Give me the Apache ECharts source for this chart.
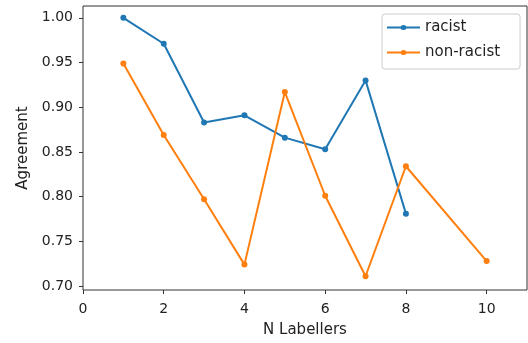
<!DOCTYPE html>
<html>
<head>
<meta charset="utf-8">
<script src="https://cdn.jsdelivr.net/npm/echarts@6/dist/echarts.min.js"></script>
<style>
html,body{margin:0;padding:0;background:#fff;}
#chart{width:528px;height:343px;}
</style>
</head>
<body>
<div id="chart"></div>
<script>
const racistX = [1, 2, 3, 4, 5, 6, 7, 8];
const racistY = [1.000, 0.971, 0.883, 0.891, 0.866, 0.853, 0.930, 0.781];
const nonRacistX = [1, 2, 3, 4, 5, 6, 7, 8, 10];
const nonRacistY = [0.949, 0.869, 0.797, 0.724, 0.917, 0.801, 0.711, 0.834, 0.728];
const xTicks = [0, 2, 4, 6, 8, 10];
const yTicks = [0.70, 0.75, 0.80, 0.85, 0.90, 0.95, 1.00];

const FONT = 'DejaVu Sans';
const ICON = 'path://M0,1.6L33,1.6L33,3.4L0,3.4Z M13.5,2.5A3,2.5,0,1,1,19.5,2.5A3,2.5,0,1,1,13.5,2.5Z';
const chart = echarts.init(document.getElementById('chart'), null, {renderer: 'canvas'});
chart.setOption({
  animation: false,
  backgroundColor: '#fff',
  textStyle: {fontFamily: FONT},
  grid: {left: 83, right: 1, top: 6, bottom: 49, show: true, borderColor: '#333', borderWidth: 1, backgroundColor: 'transparent'},
  legend: {
    orient: 'vertical', left: 382, top: 14,
    padding: [6, 20, 9, 5],
    itemWidth: 33, itemHeight: 5, itemGap: 10, itemTextGap: 14,
    borderColor: '#ccc', borderWidth: 1, borderRadius: 3, backgroundColor: 'rgba(255,255,255,0.8)',
    itemStyle: {borderWidth: 0},
    textStyle: {fontFamily: FONT, fontSize: 15, color: '#222', lineHeight: 15},
    data: [{name: 'racist', icon: ICON}, {name: 'non-racist', icon: ICON}]
  },
  xAxis: {
    type: 'value', min: 0, max: 11,
    name: 'N Labellers', nameLocation: 'middle', nameGap: 33,
    nameTextStyle: {fontFamily: FONT, fontSize: 15, color: '#222'},
    axisLine: {show: false},
    splitLine: {show: false},
    axisTick: {show: true, length: 4, customValues: xTicks, lineStyle: {color: '#333'}},
    axisLabel: {customValues: xTicks, fontFamily: FONT, fontSize: 14, color: '#222', margin: 12}
  },
  yAxis: {
    type: 'value', min: 0.6956, max: 1.0132,
    name: 'Agreement', nameLocation: 'middle', nameGap: 52,
    nameTextStyle: {fontFamily: FONT, fontSize: 15, color: '#222'},
    axisLine: {show: false},
    splitLine: {show: false},
    axisTick: {show: true, length: 4, customValues: yTicks, lineStyle: {color: '#333'}},
    axisLabel: {customValues: yTicks, fontFamily: FONT, fontSize: 14, color: '#222', margin: 10,
      formatter: v => v.toFixed(2)}
  },
  series: [
    {
      name: 'racist', type: 'line', color: '#1f77b4',
      data: racistX.map((x, i) => [x, racistY[i]]),
      symbol: 'circle', symbolSize: 6, showSymbol: true,
      lineStyle: {width: 2, color: '#1f77b4'}, itemStyle: {color: '#1f77b4'}
    },
    {
      name: 'non-racist', type: 'line', color: '#ff7f0e',
      data: nonRacistX.map((x, i) => [x, nonRacistY[i]]),
      symbol: 'circle', symbolSize: 6, showSymbol: true,
      lineStyle: {width: 2, color: '#ff7f0e'}, itemStyle: {color: '#ff7f0e'}
    }
  ]
});
</script>
</body>
</html>
